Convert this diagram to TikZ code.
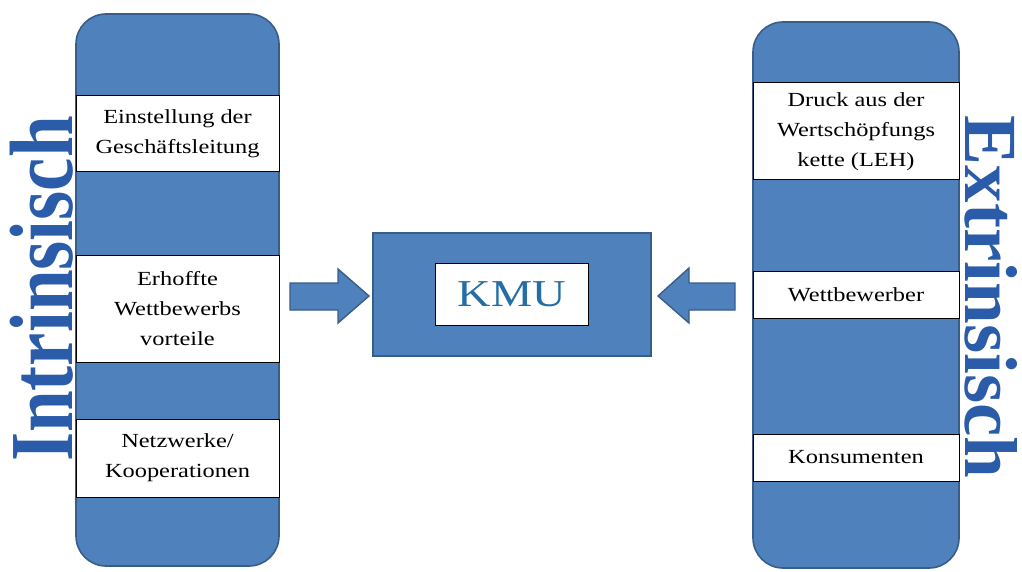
\documentclass[tikz,border=0pt]{standalone}
\usepackage{xcolor}
\usepackage{fontspec}
\usepackage{tikz}
\usetikzlibrary{positioning, calc}
\setmainfont{Liberation Serif}
\newfontfamily\widefont[FakeStretch=1.22]{Liberation Serif}
\definecolor{kmublue}{RGB}{79, 129, 189}
\definecolor{kmuborder}{RGB}{56, 93, 138}
\definecolor{kmutext}{RGB}{36, 110, 165}
\definecolor{kmutitle}{RGB}{42, 92, 170}

\begin{document}
\begin{tikzpicture}[x=1pt, y=-1pt,
            column/.style={fill=kmublue, draw=kmuborder, line width=1.6pt, rounded corners=30pt},
            factor/.style={fill=white, draw=black, line width=1pt, align=center, inner sep=0pt,
                  font=\widefont\fontsize{20}{30}\selectfont},
            blockarrow/.style={fill=kmublue, draw=kmuborder, line width=1.4pt, line join=miter},
            sidetitle/.style={text=kmutitle, inner sep=0pt,
                  font=\fontsize{75}{80}\selectfont\bfseries}]
            \useasboundingbox (0,0) rectangle (1022,572);

            % two columns
            \draw[column] (76,14) rectangle (279,566);
            \draw[column] (753,22) rectangle (959,568);

            % intrinsic factors
            \node[factor, minimum width=203pt, minimum height=76pt] (leitung) at (177.5,134)
                {Einstellung der\\Geschäftsleitung};
            \node[factor, minimum width=203pt, minimum height=107pt] (vorteile) at (177.5,308.5)
                {Erhoffte\\Wettbewerbs\\vorteile};
            \node[factor, minimum width=203pt, minimum height=78pt] (netz) at (177.5,458)
                {Netzwerke/\\Kooperationen};

            % extrinsic factors
            \node[factor, minimum width=206pt, minimum height=97pt] (druck) at (856,131.5)
                {Druck aus der\\Wertschöpfungs\\kette (LEH)};
            \node[factor, minimum width=206pt, minimum height=47pt] (wettb) at (856,294.5)
                {Wettbewerber};
            \node[factor, minimum width=206pt, minimum height=47pt] (konsum) at (856,457.5)
                {Konsumenten};

            % KMU in the middle
            \node[fill=kmublue, draw=kmuborder, line width=1.8pt,
                  minimum width=278pt, minimum height=123pt] (kmubox) at (512,294.5) {};
            \node[fill=white, draw=black, line width=1pt, inner sep=0pt,
                  minimum width=153pt, minimum height=62pt,
                  font=\widefont\fontsize{38}{40}\selectfont, text=kmutext] (kmu) at (kmubox.center) {KMU};

            % arrows into the KMU
            \draw[blockarrow] (290,283) -- (338,283) -- (338,269) -- (369,296)
                -- (338,323) -- (338,310) -- (290,310) -- cycle;
            \draw[blockarrow] (735,283) -- (689,283) -- (689,268) -- (658,296)
                -- (689,323) -- (689,310) -- (735,310) -- cycle;

            % side titles
            \node[sidetitle, rotate=90, anchor=base] (intr) at (72,289)
                {\scalebox{1}[1.2]{Intrinsisch}};
            \node[sidetitle, rotate=-90, anchor=base] (extr) at (965,297)
                {Extrinsisch};
        \end{tikzpicture}
\end{document}
